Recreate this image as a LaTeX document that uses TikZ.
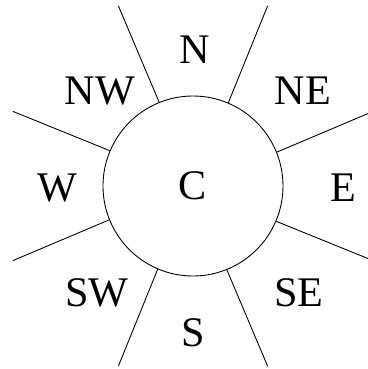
\documentclass[tikz,border=0pt]{standalone}
\usepackage{fontspec}
\setmainfont{Liberation Serif}
\usetikzlibrary{positioning}
\tikzset{
  dirlabel/.style={font=\fontsize{24}{28}\selectfont,inner sep=0pt},
  spoke/.style={line width=0.5pt}
}

\begin{document}
\begin{tikzpicture}[scale=1.0]
      \useasboundingbox (-3.86,-3.66) rectangle (3.5,3.72);
      \clip (-3.86,-3.66) rectangle (3.5,3.72);
      \node[draw,circle,line width=0.5pt,minimum size=3.6cm,inner sep=0pt,
        dirlabel] (c) at (0,0) {C};
      \foreach \a [count=\i] in {22.5,67.5,...,337.5}{
        \coordinate (o\i) at (\a:3.9);
        \draw[spoke] (c.\a) -- (o\i);
      }
      \node[dirlabel] (n)  at (0.04,2.72)  {N};
      \node[dirlabel] (ne) at (2.2,1.9)    {NE};
      \node[dirlabel] (e)  at (3.0,-0.04)  {E};
      \node[dirlabel] (se) at (2.12,-2.14) {SE};
      \node[dirlabel] (s)  at (0,-2.94)    {S};
      \node[dirlabel] (sw) at (-1.92,-2.14) {SW};
      \node[dirlabel] (w)  at (-2.72,-0.04) {W};
      \node[dirlabel] (nw) at (-1.86,1.9)  {NW};
    \end{tikzpicture}
\end{document}
